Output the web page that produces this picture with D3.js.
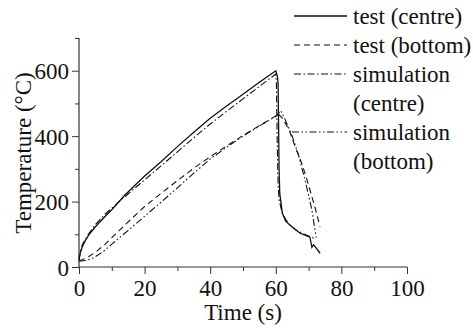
<!DOCTYPE html>
<html>
<head>
<meta charset="utf-8">
<script src="https://cdn.jsdelivr.net/npm/d3@7"></script>
<style>
  body { margin: 0; background: #fff; }
  svg { display: block; }
  text { font-family: "Liberation Serif", "Times New Roman", serif; fill: #111; }
</style>
</head>
<body>
<div class="chart"></div>
<script>
// series: [time (s), temperature (°C)]
const testCentre = [[0,25],[0.3,40],[1,62],[2,82],[3,98],[5,123],[8,155],[10,175],[14,220],[20,278],[25,322],[30,368],[35,412],[40,455],[45,492],[50,528],[55,565],[60,600],[60.5,582],[60.7,560],[61,300],[61.2,225],[62,165],[63,140],[65,122],[67.4,103],[70.4,91],[71,60],[71.5,68],[72,62],[73.5,42]];
const testBottom = [[0,20],[1,22],[3,32],[5,45],[8,70],[10,90],[15,138],[20,185],[25,225],[30,264],[35,302],[40,337],[45,370],[50,402],[55,432],[60,462],[60.5,470],[62,455],[64,420],[66,365],[68,315],[70,250],[72,180],[73.5,123]];
const simCentre = [[0,20],[0.5,50],[1,68],[2,86],[3,102],[5,130],[8,162],[10,180],[15,224],[20,266],[25,309],[30,352],[35,395],[40,437],[45,476],[50,514],[55,552],[60,590],[60.2,560],[60.4,400],[60.7,250],[61,205],[62,163],[64,130],[66,114],[68,103],[70,95],[71.5,88]];
const simBottom = [[0,18],[2,20],[4,26],[6,38],[8,52],[10,70],[15,112],[20,155],[25,198],[30,242],[35,287],[40,330],[45,366],[50,400],[55,431],[60,460],[61.5,478],[63,447],[65,400],[67,340],[69,262],[71,175],[72.3,90]];

const xTicks = [0, 20, 40, 60, 80, 100];
const xMinor = [10, 30, 50, 70, 90];
const yTicks = [0, 200, 400, 600];
const yMinor = [100, 300, 500, 700];

const legendNames = [["test (centre)"], ["test (bottom)"], ["simulation", "(centre)"], ["simulation", "(bottom)"]];

const W = 473, H = 329;
const margin = {top: 38, right: 66, bottom: 62, left: 79};
const width = W - margin.left - margin.right,
      height = H - margin.top - margin.bottom;
const fontSize = "23px";

const series = [
  {data: testCentre, dash: null, sw: 1.3},
  {data: testBottom, dash: "6,4", sw: 1.1},
  {data: simCentre, dash: "7,2.5,1.5,2.5", sw: 1.1},
  {data: simBottom, dash: "7,2.5,1.5,2.5,1.5,2.5", sw: 1.1}
];

let svg = d3.select(".chart").append("svg")
  .attr("width", W)
  .attr("height", H);

let g = svg.append("g")
  .attr("transform", "translate(" + margin.left + "," + margin.top + ")");

let x = d3.scaleLinear().domain([0, 100]).range([0, width]);
let y = d3.scaleLinear().domain([0, 700]).range([height, 0]);

let line = d3.line()
  .x((d) => x(d[0]))
  .y((d) => y(d[1]));

// axes: majors with labels, minors without
let xAxis = g.append("g")
  .attr("transform", "translate(0," + height + ")")
  .call(d3.axisBottom(x).tickValues(xTicks).tickSize(7).tickPadding(6));
g.append("g")
  .attr("transform", "translate(0," + height + ")")
  .call(d3.axisBottom(x).tickValues(xMinor).tickSize(4).tickFormat(""))
  .select(".domain").remove();

let yAxis = g.append("g")
  .call(d3.axisLeft(y).tickValues(yTicks).tickSize(7).tickPadding(3));
g.append("g")
  .call(d3.axisLeft(y).tickValues(yMinor).tickSize(4).tickFormat(""))
  .select(".domain").remove();

xAxis.select(".domain").attr("d", "M0,0H" + width).attr("stroke", "#333").attr("stroke-width", 1.2);
yAxis.select(".domain").attr("d", "M0," + height + "V0").attr("stroke", "#333").attr("stroke-width", 1.2);
g.selectAll(".tick line").attr("stroke", "#333");
g.selectAll(".tick text")
  .style("font-family", "Liberation Serif")
  .style("font-size", fontSize)
  .attr("fill", "#111");
yAxis.selectAll(".tick text").attr("dy", "0.36em");

// data lines
g.selectAll(".series")
  .data(series)
  .enter().append("path")
    .attr("class", "series")
    .attr("d", (d) => line(d.data))
    .attr("fill", "none")
    .attr("stroke", "#111")
    .attr("stroke-width", (d) => d.sw)
    .attr("stroke-dasharray", (d) => d.dash);

// axis titles
svg.append("text")
  .attr("x", margin.left + width / 2)
  .attr("y", 320)
  .attr("text-anchor", "middle")
  .style("font-size", fontSize)
  .text("Time (s)");

svg.append("text")
  .attr("transform", "translate(31," + (margin.top + 115) + ") rotate(-90)")
  .attr("text-anchor", "middle")
  .style("font-size", fontSize)
  .text("Temperature (°C)");

// legend
const rowY = [16, 45, 74, 132];
let legend = svg.append("g");
series.forEach((s, i) => {
  legend.append("line")
    .attr("x1", i === 3 ? 292 : 294).attr("x2", 347)
    .attr("y1", rowY[i]).attr("y2", rowY[i])
    .attr("stroke", "#111")
    .attr("stroke-width", s.sw)
    .attr("stroke-dasharray", s.dash);
  legendNames[i].forEach((t, j) => {
    legend.append("text")
      .attr("x", 353)
      .attr("y", rowY[i] + 8 + j * 29)
      .style("font-size", fontSize)
      .text(t);
  });
});
</script>
</body>
</html>
